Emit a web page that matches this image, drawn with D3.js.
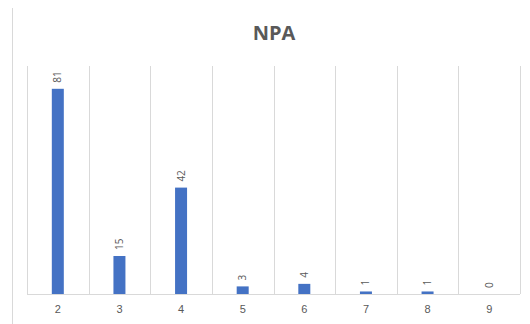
<!DOCTYPE html>
<html><head><meta charset="utf-8">
<script src="https://cdn.jsdelivr.net/npm/d3@7"></script>
<style>body{margin:0;background:#fff;} svg{display:block;font-family:"Open Sans","Segoe UI",Calibri,sans-serif;}</style>
</head><body>
<svg id="chart" width="530" height="324"></svg>
<script>
const categories = ["2","3","4","5","6","7","8","9"];
const values = [81,15,42,3,4,1,1,0];
const title = "NPA";

const svg = d3.select("#chart");
const W = 530, H = 324;
const m = {left:27, right:10, top:66, bottom:30};
const x = d3.scaleBand().domain(categories).range([m.left, W - m.right]).paddingInner(0).paddingOuter(0);
const y = d3.scaleLinear().domain([0, 90]).range([H - m.bottom, m.top]);

// chart frame left edge
svg.append("line").attr("x1",12.5).attr("x2",12.5).attr("y1",8).attr("y2",H).attr("stroke","#d9d9d9").attr("stroke-width",1);

// vertical gridlines at category boundaries
const bounds = categories.map(c => x(c)).concat([x.range()[1]]);
svg.append("g").selectAll("line").data(bounds).join("line")
  .attr("x1", d => Math.round(d) + 0.5).attr("x2", d => Math.round(d) + 0.5)
  .attr("y1", y(90)).attr("y2", y(0))
  .attr("stroke", "#d9d9d9").attr("stroke-width", 1);

// baseline
svg.append("line").attr("x1", x.range()[0]).attr("x2", x.range()[1])
  .attr("y1", Math.round(y(0)) + 0.5).attr("y2", Math.round(y(0)) + 0.5)
  .attr("stroke", "#d9d9d9").attr("stroke-width", 1);

const bw = 12;
svg.append("g").selectAll("rect").data(values).join("rect")
  .attr("x", (d,i) => x(categories[i]) + x.bandwidth()/2 - bw/2)
  .attr("y", d => y(d))
  .attr("width", bw)
  .attr("height", d => y(0) - y(d))
  .attr("fill", "#4472C4");

// data labels rotated
svg.append("g").selectAll("text").data(values).join("text")
  .attr("transform", (d,i) => `translate(${x(categories[i]) + x.bandwidth()/2 + 3.5},${y(d) - 6}) rotate(-90)`)
  .attr("text-anchor", "start")
  .attr("font-size", 10)
  .attr("fill", "#595959")
  .text(d => d);

// x axis labels
const xAxis = d3.axisBottom(x).tickSize(0).tickPadding(11);
const gx = svg.append("g").attr("transform", `translate(0,${y(0)})`).call(xAxis);
gx.select(".domain").remove();
gx.selectAll("text").attr("font-size", 11).attr("fill", "#595959").attr("font-family", "inherit");

// title
svg.append("text").attr("x", 274).attr("y", 40).attr("text-anchor", "middle")
  .attr("font-size", 20).attr("font-weight", "bold").attr("fill", "#595959").text(title);
</script>
</body></html>
